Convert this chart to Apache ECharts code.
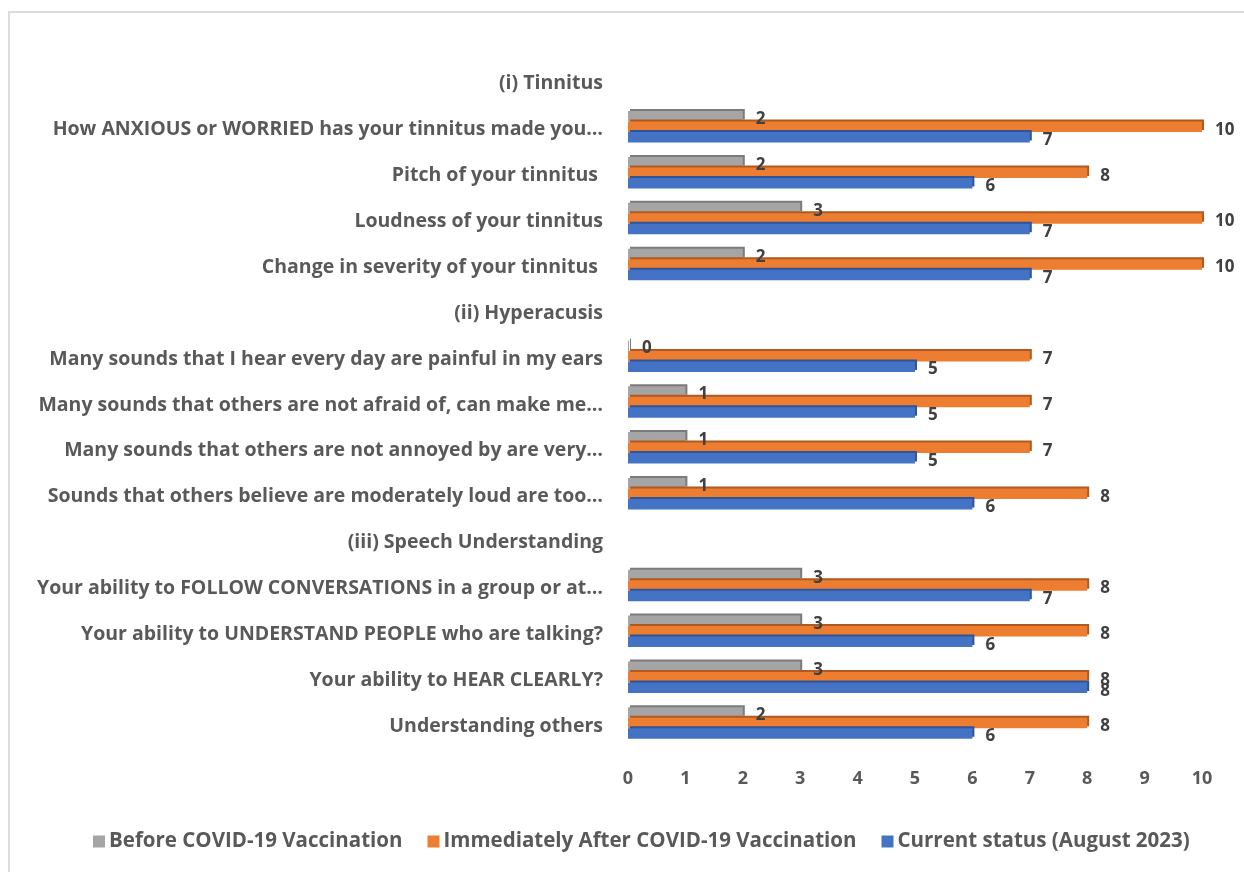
<!DOCTYPE html>
<html>
<head>
<meta charset="utf-8">
<script src="https://cdn.jsdelivr.net/npm/echarts@6/dist/echarts.min.js"></script>
<style>
  html, body { margin: 0; padding: 0; background: #fff; overflow: hidden; }
  #frame { position: absolute; left: 8px; top: 11px; width: 1300px; height: 900px;
           border: 2px solid #dcdcdc; box-sizing: border-box; }
  #chart { position: absolute; left: 0; top: 0; width: 1244px; height: 872px; }
</style>
</head>
<body>
<div id="frame"></div>
<div id="chart"></div>
<script>
// Survey items, top to bottom; section headings carry no values
const categories = [
  "(i) Tinnitus",
  "How ANXIOUS or WORRIED has your tinnitus made you…",
  "Pitch of your tinnitus ",
  "Loudness of your tinnitus",
  "Change in severity of your tinnitus ",
  "(ii) Hyperacusis",
  "Many sounds that I hear every day are painful in my ears",
  "Many sounds that others are not afraid of, can make me…",
  "Many sounds that others are not annoyed by are very…",
  "Sounds that others believe are moderately loud are too…",
  "(iii) Speech Understanding",
  "Your ability to FOLLOW CONVERSATIONS in a group or at…",
  "Your ability to UNDERSTAND PEOPLE who are talking?",
  "Your ability to HEAR CLEARLY?",
  "Understanding others"
];

const seriesNames = [
  "Before COVID-19 Vaccination",
  "Immediately After COVID-19 Vaccination",
  "Current status (August 2023)"
];

const beforeVaccination = [null, 2, 2, 3, 2, null, 0, 1, 1, 1, null, 3, 3, 3, 2];
const afterVaccination  = [null, 10, 8, 10, 10, null, 7, 7, 7, 8, null, 8, 8, 8, 8];
const currentStatus     = [null, 7, 6, 7, 7, null, 5, 5, 5, 6, null, 7, 6, 8, 6];

const xTicks = [0, 1, 2, 3, 4, 5, 6, 7, 8, 9, 10];

const colors = ["#a5a5a5", "#ed7d31", "#4472c4"];
const edgeColors = ["#7b7b7b", "#ae5a21", "#2f5597"];
const FONT = "'Open Sans', 'DejaVu Sans', sans-serif";

function makeSeries(i, data) {
  return {
    name: seriesNames[i],
    type: "bar",
    data: data,
    barWidth: 10.5,
    barGap: "0%",
    barMinHeight: i === 0 ? 1 : 0,
    itemStyle: {
      color: colors[i],
      shadowColor: edgeColors[i],
      shadowOffsetX: 2,
      shadowOffsetY: -2,
      shadowBlur: 0
    },
    label: {
      show: true,
      position: "right",
      distance: 13,
      offset: [0, 3],
      color: "#404040",
      fontFamily: FONT,
      fontWeight: "bold",
      fontSize: 17
    },
    emphasis: { disabled: true }
  };
}

const chart = echarts.init(document.getElementById("chart"), null, { renderer: "canvas" });
chart.setOption({
  animation: false,
  color: colors,
  grid: { left: 628, right: 42, top: 58, bottom: 126, containLabel: false },
  xAxis: {
    type: "value",
    min: xTicks[0],
    max: xTicks[xTicks.length - 1],
    interval: 1,
    axisLine: { show: false },
    axisTick: { show: false },
    splitLine: { show: false },
    axisLabel: {
      margin: 24,
      color: "#595959",
      fontFamily: FONT,
      fontWeight: "bold",
      fontSize: 18
    }
  },
  yAxis: {
    type: "category",
    data: categories,
    inverse: true,
    axisLine: { show: false },
    axisTick: { show: false },
    axisLabel: {
      margin: 25,
      verticalAlign: "top",
      lineHeight: 6,
      color: "#595959",
      fontFamily: FONT,
      fontWeight: "bold",
      fontSize: 19.5
    }
  },
  legend: {
    bottom: 15,
    left: 88,
    icon: "rect",
    itemWidth: 12,
    itemHeight: 12,
    itemGap: 25,
    selectedMode: false,
    textStyle: {
      color: "#595959",
      fontFamily: FONT,
      fontWeight: "bold",
      fontSize: 20.5,
      padding: [0, 0, 0, -1]
    },
    data: seriesNames
  },
  series: [
    makeSeries(0, beforeVaccination),
    makeSeries(1, afterVaccination),
    makeSeries(2, currentStatus)
  ]
});
</script>
</body>
</html>
